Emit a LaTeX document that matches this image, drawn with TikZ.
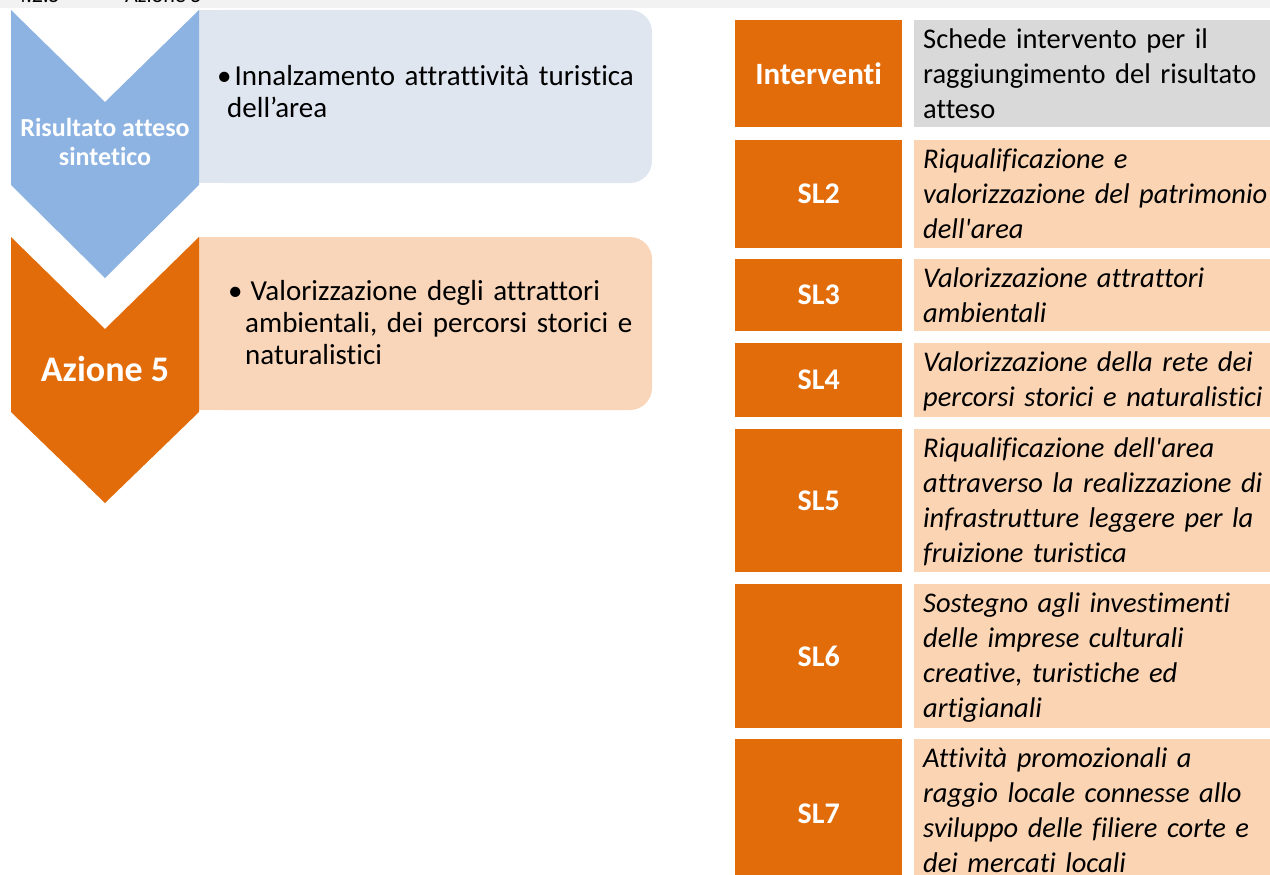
\documentclass[tikz,border=0pt]{standalone}
\usepackage{fontspec}
\setmainfont{Carlito}[Ligatures={TeX,NoCommon}]

\definecolor{OrangeDark}{HTML}{E36C0A}
\definecolor{PeachLight}{HTML}{FBD4B4}
\definecolor{PeachBox}{HTML}{F9D6BA}
\definecolor{BlueDark}{HTML}{8DB3E2}
\definecolor{BlueLight}{HTML}{DFE6F0}
\definecolor{GrayHead}{HTML}{D9D9D9}
\definecolor{GrayStrip}{HTML}{F2F2F2}

\begin{document}
\begin{tikzpicture}[x=1pt, y=-1pt]
\useasboundingbox (0,0) rectangle (1270,875);

% heading strip, cut at the top
\fill[GrayStrip] (0,0) rectangle (1270,8);
\begin{scope}
\clip (0,0) rectangle (1270,8);
\node[anchor=base west, inner sep=0pt, font=\fontsize{22}{26}\selectfont] (SecNum) at (15,3) {4.2.5};
\node[anchor=base west, inner sep=0pt, font=\fontsize{22}{26}\selectfont] (SecTitle) at (125,3) {Azione 5};
\end{scope}

\coordinate (R1_1) at (11, 10);
\coordinate (R1_2) at (105, 102);
\coordinate (R1_3) at (199, 10);
\coordinate (R1_4) at (199, 185);
\coordinate (R1_5) at (105, 278);
\coordinate (R1_6) at (11, 185);
\coordinate (A1_1) at (11, 237);
\coordinate (A1_2) at (105, 329);
\coordinate (A1_3) at (199, 237);
\coordinate (A1_4) at (199, 412);
\coordinate (A1_5) at (105, 503);
\coordinate (A1_6) at (11, 412);

\fill[BlueLight, rounded corners=22pt] (199,10) rectangle (652,183);
\fill[BlueLight] (199,10) rectangle (240,183);
\fill[PeachBox, rounded corners=22pt] (199,237) rectangle (652,410);
\fill[PeachBox] (199,237) rectangle (240,410);

\fill[BlueDark] (R1_1) -- (R1_2) -- (R1_3) -- (R1_4) -- (R1_5) -- (R1_6) -- cycle;
\fill[OrangeDark] (A1_1) -- (A1_2) -- (A1_3) -- (A1_4) -- (A1_5) -- (A1_6) -- cycle;

\tikzset{ArrowLabel/.style = {
 text = white,
 align = center,
 inner sep = 0pt} }

\node[ArrowLabel, font=\bfseries\fontsize{26}{29}\selectfont] (ResLabel) at (105, 142) {Risultato atteso\\sintetico};
\node[ArrowLabel, font=\bfseries\fontsize{36}{40}\selectfont] (AzLabel) at (105, 369) {Azione 5};

\tikzset{BulletText/.style = {
 anchor = base west,
 inner sep = 0pt,
 text width = 440pt,
 align = left,
 font = \fontsize{29}{32}\selectfont} }

\node[BulletText] (ResText) at (227, 86) {\hspace*{-10pt}\textbullet\hspace{3pt}Innalzamento attrattività turistica\\dell’area};
\node[BulletText] (AzText) at (245, 300) {\hspace*{-17pt}\textbullet\hspace{8pt}Valorizzazione degli attrattori\\ambientali, dei percorsi storici e\\naturalistici};

% table of interventions
\tikzset{CodeCell/.style = {
 fill = OrangeDark,
 text = white,
 anchor = north west,
 inner sep = 0pt,
 minimum width = 167pt,
 font = \bfseries\fontsize{30}{34}\selectfont} }
\tikzset{CellText/.style = {
 anchor = base west,
 inner sep = 0pt,
 text width = 400pt,
 align = left,
 font = \itshape\fontsize{28.5}{35}\selectfont} }

\node[CodeCell, minimum height=107pt, font=\bfseries\fontsize{31}{34}\selectfont] (Head) at (735, 20) {Interventi};
\node[CodeCell, minimum height=108pt] (SL2) at (735, 140) {SL2};
\node[CodeCell, minimum height=72pt] (SL3) at (735, 259) {SL3};
\node[CodeCell, minimum height=74pt] (SL4) at (735, 343) {SL4};
\node[CodeCell, minimum height=143pt] (SL5) at (735, 429) {SL5};
\node[CodeCell, minimum height=144pt] (SL6) at (735, 584) {SL6};
\node[CodeCell, minimum height=150pt] (SL7) at (735, 739) {SL7};

\fill[GrayHead] (914, 20) rectangle (1270, 127);
\fill[PeachLight] (914, 140) rectangle (1270, 248);
\fill[PeachLight] (914, 259) rectangle (1270, 331);
\fill[PeachLight] (914, 343) rectangle (1270, 417);
\fill[PeachLight] (914, 429) rectangle (1270, 572);
\fill[PeachLight] (914, 584) rectangle (1270, 728);
\fill[PeachLight] (914, 739) rectangle (1270, 875);

\node[CellText, font=\fontsize{28.5}{35}\selectfont] (HeadText) at (923, 49) {Schede intervento per il\\raggiungimento del risultato\\atteso};
\node[CellText] (SL2Text) at (923, 168) {Riqualificazione e\\valorizzazione del patrimonio\\dell\textquotesingle area};
\node[CellText] (SL3Text) at (923, 287) {Valorizzazione attrattori\\ambientali};
\node[CellText] (SL4Text) at (923, 371) {Valorizzazione della rete dei\\percorsi storici e naturalistici};
\node[CellText] (SL5Text) at (923, 457) {Riqualificazione dell\textquotesingle area\\attraverso la realizzazione di\\infrastrutture leggere per la\\fruizione turistica};
\node[CellText] (SL6Text) at (923, 612) {Sostegno agli investimenti\\delle imprese culturali\\creative, turistiche ed\\artigianali};
\node[CellText] (SL7Text) at (923, 767) {Attività promozionali a\\raggio locale connesse allo\\sviluppo delle filiere corte e\\dei mercati locali};

\end{tikzpicture}
\end{document}
